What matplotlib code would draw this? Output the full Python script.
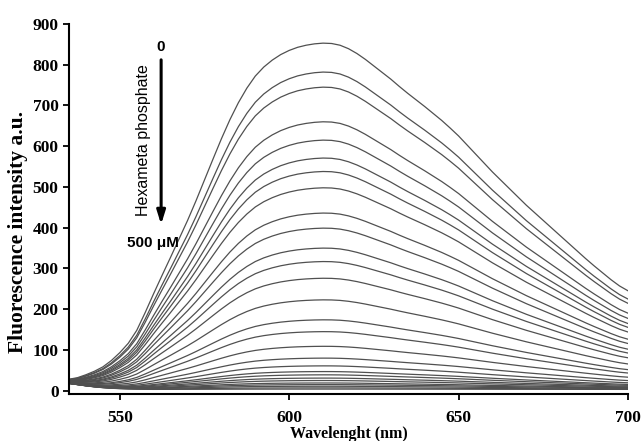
import numpy as np
import matplotlib
matplotlib.use("Agg")
import matplotlib.pyplot as plt

# wavelength grid (nm), 2.5 nm steps
wavelength = [535 + 2.5 * i for i in range(67)]

# normalized emission profile (peak ~611 nm)
shape = [0.012, 0.020, 0.032, 0.045, 0.060, 0.080, 0.104, 0.132, 0.170, 0.222,
         0.277, 0.330, 0.382, 0.435, 0.488, 0.545, 0.605, 0.665, 0.724, 0.779,
         0.828, 0.870, 0.905, 0.931, 0.951, 0.967, 0.979, 0.988, 0.994, 0.998,
         1.000, 0.999, 0.994, 0.984, 0.970, 0.953, 0.934, 0.915, 0.896, 0.875,
         0.855, 0.836, 0.817, 0.797, 0.777, 0.755, 0.732, 0.706, 0.680, 0.654,
         0.628, 0.604, 0.580, 0.556, 0.532, 0.510, 0.488, 0.466, 0.444, 0.422,
         0.400, 0.378, 0.357, 0.337, 0.317, 0.299, 0.285]

# scatter / baseline contribution common to all spectra
baseline = [18, 15, 12, 9.5, 7.5, 6, 5, 4.2, 3.6, 3.2] + [3] * 57

# peak intensities, from 0 to 500 uM hexametaphosphate
peaks = [850, 779, 742, 657, 612, 568, 535, 495, 433, 396, 347, 314, 273, 220,
         171, 142, 106, 77, 58, 44, 36, 28, 22, 16, 12, 8, 4, 1]

fig = plt.figure(figsize=(6.41, 4.41), dpi=100)
ax = fig.add_axes([0.1076, 0.1066, 0.8721, 0.839])

wl = np.array(wavelength)
sh = np.array(shape)
bl = np.array(baseline)
for p in peaks:
    ax.plot(wl, p * sh + bl, color="#505050", lw=0.9)

ax.set_xlim(535, 700)
ax.set_ylim(-8, 900)
ax.set_xticks([550, 600, 650, 700])
ax.set_yticks(range(0, 901, 100))
for s in ["top", "right"]:
    ax.spines[s].set_visible(False)
for s in ["left", "bottom"]:
    ax.spines[s].set_linewidth(1.5)
ax.tick_params(axis="both", direction="out", length=4.5, width=1.3)

serif = ["Liberation Serif", "DejaVu Serif"]
for lab in ax.get_xticklabels() + ax.get_yticklabels():
    lab.set_fontfamily(serif)
    lab.set_fontweight("bold")
    lab.set_fontsize(12.5)
ax.tick_params(axis="x", pad=7)
ax.tick_params(axis="y", pad=3)

ax.set_xlabel("Wavelenght (nm)", fontfamily=serif, fontweight="bold", fontsize=11.5, labelpad=0)
fig.text(18 / 641, 1 - 232 / 441, "Fluorescence intensity a.u.", fontfamily=serif,
         fontweight="bold", fontsize=15.5, rotation=90, ha="center", va="center")

sans = ["Liberation Sans", "DejaVu Sans"]
ax.text(562.2, 843, "0", fontfamily=sans, fontweight="bold", fontsize=11, ha="center", va="center")
ax.annotate("", xy=(562.2, 408), xytext=(562.2, 812),
            arrowprops=dict(arrowstyle="-|>,head_length=0.8,head_width=0.25", lw=2.2,
                            color="black", shrinkA=0, shrinkB=0))
ax.text(557.1, 615, "Hexameta phosphate", fontfamily=sans, fontsize=11.5, rotation=90,
        ha="center", va="center")
ax.text(559.8, 363, "500 μM", fontfamily=sans, fontweight="bold", fontsize=11, ha="center", va="center")

fig.savefig("out.png", dpi=100)
